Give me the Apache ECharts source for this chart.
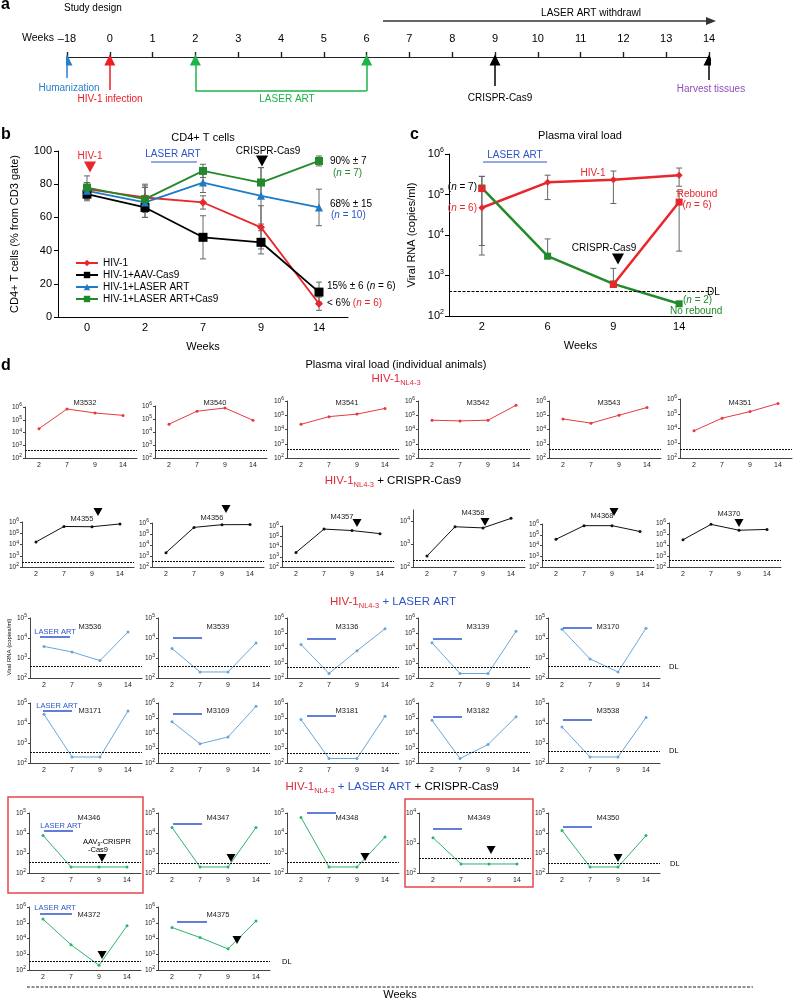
<!DOCTYPE html>
<html>
<head>
<meta charset="utf-8">
<script src="https://cdn.jsdelivr.net/npm/echarts@6/dist/echarts.min.js"></script>
<style>
  html, body { margin: 0; padding: 0; background: #fff; }
  #container { width: 793px; height: 1000px; }
</style>
</head>
<body>
<div id="container"></div>
<script>
// ---- a: study design ----
const timelineWeeks = ['–18', '0', '1', '2', '3', '4', '5', '6', '7', '8', '9', '10', '11', '12', '13', '14'];
const eventWeeks = ['–18', '0', '2', '6', '9', '14'];

// ---- b: CD4+ T cells (%) ----
const weeksB = ['0', '2', '7', '9', '14'];
const cd4Hiv = [77, 72, 69, 54, 8];
const cd4HivErr = [4, 8, 4, 13, 4];
const cd4Cas = [74, 66, 48, 45, 15];
const cd4CasErr = [4, 6, 13, 7, 6];
const cd4Art = [76, 69, 81, 73, 66];
const cd4ArtErr = [5, 9, 6, 17, 11];
const cd4ArtCas = [78, 71, 88, 81, 94];
const cd4ArtCasErr = [7, 8, 4, 9, 3];

// ---- c: plasma viral load ----
const weeksC = ['2', '6', '9', '14'];
const vlHiv = [4.7e4, 2e5, 2.3e5, 3e5];
const vlHivLo = [3.2e3, 7.5e4, 6e4, 1.6e5];
const vlHivHi = [2.8e5, 3e5, 3.8e5, 4.5e5];
const vlRebound = [1.4e5, null, 600, 6.5e4];
const vlReboundLo = [null, null, null, 4e3];
const vlReboundHi = [null, null, null, 1.2e5];
const vlArtCas = [1.45e5, 3e3, 620, 200];
const vlArtCasLo = [5.5e3, 2.6e3, 600, null];
const vlArtCasHi = [2.8e5, 8e3, 1.5e3, null];
const detectionLimit = 400;

// ---- d: individual animals ----
const weeksD = ['2', '7', '9', '14'];
const hivIds = ['M3532', 'M3540', 'M3541', 'M3542', 'M3543', 'M4351'];
const hivLoads = [
  [2e4, 7e5, 3.4e5, 2.2e5], [4e4, 4e5, 7e5, 8e4], [2.3e4, 8e4, 1.2e5, 3e5],
  [4.5e4, 4e4, 4.5e4, 5e5], [5.5e4, 2.8e4, 1e5, 3.5e5], [7e3, 5e4, 1.4e5, 5e5]
];
const hivMax = [1e6, 1e6, 1e6, 1e6, 1e6, 1e6];
const hivDL = [380, 380, 380, 380, 400, 400];

const casIds = ['M4355', 'M4356', 'M4357', 'M4358', 'M4368', 'M4370'];
const casLoads = [
  [1.7e4, 4e5, 3.8e5, 6.7e5], [2e3, 4e5, 7e5, 7.2e5], [2.6e3, 5e5, 3.6e5, 1.8e5],
  [3e2, 5.6e3, 5e3, 1.3e4], [3.8e4, 7e5, 7e5, 2e5], [3e4, 7.5e5, 2.2e5, 2.6e5]
];
const casMax = [1e6, 1e6, 1e6, 3e4, 1e6, 1e6];
const casDL = [270, 320, 350, 200, 400, 450];

const artIds = ['M3536', 'M3539', 'M3136', 'M3139', 'M3170', 'M3171', 'M3169', 'M3181', 'M3182', 'M3538'];
const artLoads = [
  [3.8e3, 2e3, 740, 2e4], [3e3, 200, 200, 5.6e3], [1.7e4, 200, 6.6e3, 1.9e5],
  [2.2e4, 200, 200, 1.3e5], [2.7e4, 900, 200, 3.1e4], [2.7e4, 200, 200, 4e4],
  [5.7e4, 1.9e3, 5.4e3, 6e5], [7.8e4, 200, 200, 1.3e5], [7e4, 200, 1.7e3, 1.2e5],
  [6.3e3, 200, 200, 1.9e4]
];
const artMax = [1e5, 1e5, 1e6, 1e6, 1e5, 1e5, 1e6, 1e6, 1e6, 1e5];
const artDL = [380, 380, 540, 520, 380, 330, 470, 470, 500, 380];

const artCasIds = ['M4346', 'M4347', 'M4348', 'M4349', 'M4350', 'M4372', 'M4375'];
const artCasLoads = [
  [7.6e3, 200, 200, 200], [1.9e4, 200, 200, 1.9e4], [6e4, 200, 200, 6.3e3],
  [1.5e3, 200, 200, 200], [1.35e4, 200, 200, 7.4e3], [1.7e5, 4e3, 200, 6.4e4],
  [5e4, 1.15e4, 2.2e3, 1.3e5]
];
const artCasMax = [1e5, 1e5, 1e5, 1e4, 1e5, 1e6, 1e6];
const artCasDL = [340, 320, 350, 300, 300, 340, 380];

const FONT = '"Liberation Sans", Arial, Helvetica, sans-serif';
const RED = '#e8262b', BLUE = '#1f7cc4', GREEN = '#228a2a', TITLE_RED = '#e0283b', TITLE_BLUE = '#2d55c8';

const grid = [], xAxis = [], yAxis = [], series = [], graphic = [];

function addGrid(g, xa, ya) {
  grid.push(g);
  const i = grid.length - 1;
  xa.gridIndex = i; ya.gridIndex = i;
  xAxis.push(xa); yAxis.push(ya);
  return i;
}

function tok(size, color, extra) {
  return Object.assign({ fontSize: size, fontFamily: FONT, fill: color || '#000', color: color || '#000' }, extra || {});
}

function text(x, y, str, o) {
  o = o || {};
  return {
    type: 'text', x: x, y: y, z: 100, rotation: o.rotation || 0,
    style: {
      text: str, fontFamily: FONT, fontSize: o.size || 10, fontWeight: o.weight || 'normal',
      fill: o.color || '#000', align: o.align || 'center', verticalAlign: 'middle', rich: o.rich
    }
  };
}

function triangleDown(x, y, s) {
  return { type: 'polygon', z: 100, shape: { points: [[x - s, y - s * 0.9], [x + s, y - s * 0.9], [x, y + s * 0.9]] }, style: { fill: '#000' } };
}

function hline(x1, x2, y, color, w) {
  return { type: 'line', z: 100, shape: { x1: x1, y1: y, x2: x2, y2: y }, style: { stroke: color, lineWidth: w || 1.5 } };
}

function errorBars(params, api) {
  const lo = api.coord([api.value(0), api.value(1)]);
  const hi = api.coord([api.value(0), api.value(2)]);
  const w = 3, st = { stroke: '#666', lineWidth: 1 };
  return {
    type: 'group', children: [
      { type: 'line', shape: { x1: lo[0], y1: lo[1], x2: hi[0], y2: hi[1] }, style: st },
      { type: 'line', shape: { x1: lo[0] - w, y1: lo[1], x2: lo[0] + w, y2: lo[1] }, style: st },
      { type: 'line', shape: { x1: hi[0] - w, y1: hi[1], x2: hi[0] + w, y2: hi[1] }, style: st }
    ]
  };
}

const expLabel = v => '10{s|' + Math.round(Math.log10(v)) + '}';

// ================= a =================
graphic.push(text(1, 5, 'a', { size: 16, weight: 'bold', align: 'left' }));
graphic.push(text(64, 8, 'Study design', { align: 'left' }));
graphic.push(text(22, 38, 'Weeks', { align: 'left', size: 10.5 }));

const gA = addGrid({ left: 67, top: 52, width: 642, height: 5 }, {
  type: 'category', data: timelineWeeks, boundaryGap: false, position: 'top',
  axisLine: { lineStyle: { color: '#222', width: 1.2 } },
  axisTick: { length: 5, lineStyle: { color: '#222', width: 1.2 } },
  axisLabel: { fontSize: 11, margin: 8, color: '#000', fontFamily: FONT },
  splitLine: { show: true, lineStyle: { color: '#222', width: 1.2 } }
}, { type: 'value', show: false });

const gA2 = addGrid({ left: 67, top: 52, width: 642, height: 50 }, {
  type: 'category', data: timelineWeeks, boundaryGap: false, show: false
}, { type: 'value', min: 0, max: 50, inverse: true, show: false });

const eventColors = ['#2a7fcb', '#ee1c25', '#1db34a', '#1db34a', '#000', '#000'];
const eventTails = [26, 38, 39, 39, 34, 28];
series.push({
  type: 'lines', coordinateSystem: 'cartesian2d', xAxisIndex: gA2, yAxisIndex: gA2,
  symbol: ['none', 'triangle'], symbolSize: 11, silent: true,
  lineStyle: { width: 1.5, opacity: 1 },
  data: eventWeeks.map((w, i) => ({ coords: [[w, eventTails[i]], [w, 8]], lineStyle: { color: eventColors[i] } }))
});
series.push({
  type: 'lines', coordinateSystem: 'cartesian2d', xAxisIndex: gA2, yAxisIndex: gA2, silent: true,
  lineStyle: { width: 1.5, opacity: 1, color: '#1db34a' },
  data: [{ coords: [['2', 39], ['6', 39]] }]
});
graphic.push(hline(383, 708, 21, '#333', 1.5));
graphic.push({ type: 'polygon', z: 100, shape: { points: [[706, 17], [716, 21], [706, 25]] }, style: { fill: '#333' } });
graphic.push(text(591, 13, 'LASER ART withdrawl'));
graphic.push(text(69, 88, 'Humanization', { color: '#2a7fcb' }));
graphic.push(text(110, 99, 'HIV-1 infection', { color: '#ee1c25' }));
graphic.push(text(287, 99, 'LASER ART', { color: '#1db34a' }));
graphic.push(text(500, 98, 'CRISPR-Cas9'));
graphic.push(text(711, 89, 'Harvest tissues', { color: '#8e4fb6' }));

// ================= b =================
graphic.push(text(1, 135, 'b', { size: 16, weight: 'bold', align: 'left' }));
graphic.push(text(203, 138, 'CD4+ T cells', { size: 11 }));
const gB = addGrid({ left: 58, top: 151, width: 290, height: 166 }, {
  type: 'category', data: weeksB, boundaryGap: true,
  name: 'Weeks', nameLocation: 'middle', nameGap: 24, nameTextStyle: { fontSize: 11, fontFamily: FONT, color: '#000' },
  axisLine: { lineStyle: { color: '#000' } }, axisTick: { length: 4, lineStyle: { color: '#000' } },
  axisLabel: { fontSize: 11, margin: 5, color: '#000', fontFamily: FONT }
}, {
  type: 'value', min: 0, max: 100, interval: 20,
  name: 'CD4+ T cells (% from CD3 gate)', nameLocation: 'middle', nameGap: 38,
  nameTextStyle: { fontSize: 11, fontFamily: FONT, color: '#000' },
  axisLine: { show: true, lineStyle: { color: '#000' } }, axisTick: { show: true, length: 4, lineStyle: { color: '#000' } },
  splitLine: { show: false }, axisLabel: { fontSize: 11, margin: 6, color: '#000', fontFamily: FONT }
});

function cd4Series(name, vals, errs, color, symbol, size) {
  series.push({
    type: 'custom', xAxisIndex: gB, yAxisIndex: gB, renderItem: errorBars, silent: true, z: 1,
    encode: { x: 0, y: [1, 2] },
    data: vals.map((v, i) => [i, v - errs[i], v + errs[i]])
  });
  series.push({
    type: 'line', name: name, xAxisIndex: gB, yAxisIndex: gB, data: vals, z: 3,
    symbol: symbol, symbolSize: size, itemStyle: { color: color }, lineStyle: { color: color, width: 1.8 }
  });
}
cd4Series('HIV-1', cd4Hiv, cd4HivErr, RED, 'diamond', 8);
cd4Series('HIV-1+AAV-Cas9', cd4Cas, cd4CasErr, '#000', 'rect', 9);
cd4Series('HIV-1+LASER ART', cd4Art, cd4ArtErr, BLUE, 'triangle', 8);
cd4Series('HIV-1+LASER ART+Cas9', cd4ArtCas, cd4ArtCasErr, GREEN, 'rect', 8);

graphic.push(text(90, 156, 'HIV-1', { color: RED }));
graphic.push(Object.assign(triangleDown(90, 167, 6), { style: { fill: RED } }));
graphic.push(text(173, 154, 'LASER ART', { color: TITLE_BLUE }));
graphic.push(hline(151, 197, 162, TITLE_BLUE, 1));
graphic.push(text(268, 151, 'CRISPR-Cas9'));
graphic.push(triangleDown(262, 161, 6));
const richN = (c) => ({ k: tok(10, '#000'), c: tok(10, c), ci: tok(10, c, { fontStyle: 'italic' }), ki: tok(10, '#000', { fontStyle: 'italic' }) });
graphic.push(text(330, 161, '90% ± 7', { align: 'left' }));
graphic.push(text(333, 173, '{c|(}{ci|n}{c| = 7)}', { align: 'left', rich: richN(GREEN) }));
graphic.push(text(330, 204, '68% ± 15', { align: 'left' }));
graphic.push(text(331, 215, '{c|(}{ci|n}{c| = 10)}', { align: 'left', rich: richN(TITLE_BLUE) }));
graphic.push(text(327, 286, '{k|15% ± 6 (}{ki|n}{k| = 6)}', { align: 'left', rich: richN('#000') }));
graphic.push(text(327, 303, '{k|< 6% }{c|(}{ci|n}{c| = 6)}', { align: 'left', rich: richN(RED) }));

// ================= c =================
graphic.push(text(410, 135, 'c', { size: 16, weight: 'bold', align: 'left' }));
graphic.push(text(580, 136, 'Plasma viral load', { size: 11 }));
const gC = addGrid({ left: 449, top: 154, width: 263, height: 162 }, {
  type: 'category', data: weeksC, boundaryGap: true,
  name: 'Weeks', nameLocation: 'middle', nameGap: 24, nameTextStyle: { fontSize: 11, fontFamily: FONT, color: '#000' },
  axisLine: { lineStyle: { color: '#000' } }, axisTick: { length: 4, lineStyle: { color: '#000' } },
  axisLabel: { fontSize: 11, margin: 5, color: '#000', fontFamily: FONT }
}, {
  type: 'log', logBase: 10, min: 100, max: 1e6, interval: 1,
  name: 'Viral RNA (copies/ml)', nameLocation: 'middle', nameGap: 32,
  nameTextStyle: { fontSize: 11, fontFamily: FONT, color: '#000' },
  axisLine: { show: true, lineStyle: { color: '#000' } }, axisTick: { show: true, length: 4, lineStyle: { color: '#000' } },
  splitLine: { show: false }, minorTick: { show: false },
  axisLabel: { fontSize: 11, margin: 5, color: '#000', fontFamily: FONT, lineHeight: 14, formatter: expLabel,
    rich: { s: { fontSize: 7, fontFamily: FONT, color: '#000', verticalAlign: 'top', lineHeight: 14 } } }
});

function vlErr(lo, hi) {
  series.push({
    type: 'custom', xAxisIndex: gC, yAxisIndex: gC, renderItem: errorBars, silent: true, z: 1,
    encode: { x: 0, y: [1, 2] },
    data: lo.map((v, i) => [i, v, hi[i]]).filter(d => d[1] != null)
  });
}
vlErr(vlHivLo, vlHivHi);
vlErr(vlReboundLo, vlReboundHi);
vlErr(vlArtCasLo, vlArtCasHi);
series.push({
  type: 'line', name: 'c HIV-1', xAxisIndex: gC, yAxisIndex: gC, data: vlHiv, z: 3,
  symbol: 'diamond', symbolSize: 7, itemStyle: { color: RED }, lineStyle: { color: RED, width: 2.5 }
});
series.push({
  type: 'line', name: 'c ART+Cas9', xAxisIndex: gC, yAxisIndex: gC, data: vlArtCas, z: 3,
  symbol: 'rect', symbolSize: 7, itemStyle: { color: GREEN }, lineStyle: { color: GREEN, width: 2.5 },
  markLine: { silent: true, symbol: 'none', label: { show: false },
    lineStyle: { type: [3, 1.5], color: '#000', width: 1.2 }, data: [{ yAxis: detectionLimit }] }
});
series.push({
  type: 'line', name: 'c Rebound', xAxisIndex: gC, yAxisIndex: gC, data: vlRebound, z: 4,
  symbol: 'rect', symbolSize: 7, itemStyle: { color: RED }, lineStyle: { color: RED, width: 2.5 }
});
graphic.push(text(515, 155, 'LASER ART', { color: TITLE_BLUE }));
graphic.push(hline(483, 547, 162, TITLE_BLUE, 1));
graphic.push(text(593, 173, 'HIV-1', { color: RED }));
graphic.push(text(477, 187, '{c|(}{ci|n}{c| = 7)}', { align: 'right', rich: richN('#000') }));
graphic.push(text(477, 208, '{c|(}{ci|n}{c| = 6)}', { align: 'right', rich: richN(RED) }));
graphic.push(text(697, 194, 'Rebound', { color: RED }));
graphic.push(text(697, 205, '{c|(}{ci|n}{c| = 6)}', { rich: richN(RED) }));
graphic.push(text(604, 248, 'CRISPR-Cas9'));
graphic.push(triangleDown(618, 259, 6));
graphic.push(text(707, 292, 'DL', { align: 'left' }));
graphic.push(text(683, 300, '{c|(}{ci|n}{c| = 2)}', { align: 'left', rich: richN(GREEN) }));
graphic.push(text(670, 311, 'No rebound', { align: 'left', color: GREEN }));

// ================= d =================
graphic.push(text(1, 366, 'd', { size: 16, weight: 'bold', align: 'left' }));
graphic.push(text(396, 365, 'Plasma viral load (individual animals)', { size: 11 }));
const titleRich = {
  r: tok(11.5, TITLE_RED, { lineHeight: 16 }),
  rs: tok(7.5, TITLE_RED, { verticalAlign: 'bottom', lineHeight: 16 }),
  b: tok(11.5, TITLE_BLUE, { lineHeight: 16 }),
  k: tok(11.5, '#000', { lineHeight: 16 })
};
graphic.push(text(396, 379, '{r|HIV-1}{rs|NL4-3}', { rich: titleRich }));
graphic.push(text(393, 481, '{r|HIV-1}{rs|NL4-3}{k| + CRISPR-Cas9}', { rich: titleRich }));
graphic.push(text(393, 602, '{r|HIV-1}{rs|NL4-3}{b| + LASER ART}', { rich: titleRich }));
graphic.push(text(392, 787, '{r|HIV-1}{rs|NL4-3}{b| + LASER ART}{k| + CRISPR-Cas9}', { rich: titleRich }));

function smallPanel(left, top, bottom, ymax, vals, color, dl, id, labelY) {
  const gi = addGrid({ left: left, top: top, width: 112, height: bottom - top }, {
    type: 'category', data: weeksD, boundaryGap: true,
    axisLine: { lineStyle: { color: '#444', width: 1 } }, axisTick: { length: 2, lineStyle: { color: '#444' } },
    axisLabel: { fontSize: 7, margin: 4, color: '#222', fontFamily: FONT }
  }, {
    type: 'log', logBase: 10, min: 100, max: ymax, interval: 1,
    axisLine: { show: true, lineStyle: { color: '#444' } }, axisTick: { show: true, length: 2, lineStyle: { color: '#444' } },
    splitLine: { show: false }, minorTick: { show: false },
    axisLabel: { fontSize: 6.5, margin: 3, color: '#222', fontFamily: FONT, lineHeight: 9, formatter: expLabel,
      showMinLabel: true, showMaxLabel: Math.abs(Math.log10(ymax) % 1) < 1e-6,
      rich: { s: { fontSize: 5, fontFamily: FONT, color: '#222', verticalAlign: 'top', lineHeight: 9 } } }
  });
  series.push({
    type: 'line', name: id, xAxisIndex: gi, yAxisIndex: gi, data: vals,
    symbol: 'circle', symbolSize: 3, itemStyle: { color: color }, lineStyle: { color: color, width: 1 },
    markLine: { silent: true, symbol: 'none', label: { show: false },
      lineStyle: { type: [2, 1], color: '#111', width: 1.1 }, data: [{ yAxis: dl }] }
  });
  graphic.push(text(left + 60, labelY, id, { size: 7.5, color: '#222' }));
}

const dColors = { hiv: '#e6393f', cas: '#111', art: '#6aa6d6', artCas: '#2db36b' };
const row1Left = [25, 155, 287, 418, 549, 680], row1Top = [407, 406, 401, 401, 401, 399];
hivIds.forEach((id, i) => smallPanel(row1Left[i], row1Top[i], 458, hivMax[i], hivLoads[i], dColors.hiv, hivDL[i], id, 403));

const row2Left = [22, 152, 282, 413, 542, 669], row2Top = [522, 523, 526, 510, 524, 523];
const row2LabelY = [519, 518, 517, 513, 516, 514];
casIds.forEach((id, i) => smallPanel(row2Left[i], row2Top[i], 567, casMax[i], casLoads[i], dColors.cas, casDL[i], id, row2LabelY[i]));
[[98, 512], [226, 509], [357, 523], [485, 522], [614, 512], [739, 523]].forEach(p => graphic.push(triangleDown(p[0], p[1], 4.5)));

const row34Left = [30, 158, 287, 418, 548];
artIds.forEach((id, i) => {
  const r = i < 5 ? 0 : 1, c = i % 5;
  smallPanel(row34Left[c], r ? 703 : 618, r ? 763 : 678, artMax[i], artLoads[i], dColors.art, artDL[i], id, r ? 711 : 627);
});
[[40, 70, 637], [173, 202, 638], [307, 336, 639], [433, 462, 639], [563, 592, 628],
 [43, 72, 711], [173, 202, 714], [307, 336, 716], [433, 462, 717], [563, 592, 720]
].forEach(l => graphic.push(hline(l[0], l[1], l[2], TITLE_BLUE, 1.5)));
graphic.push(text(55, 632, 'LASER ART', { size: 7.5, color: TITLE_BLUE }));
graphic.push(text(57, 706, 'LASER ART', { size: 7.5, color: TITLE_BLUE }));
graphic.push(text(669, 667, 'DL', { size: 7.5, align: 'left' }));
graphic.push(text(669, 751, 'DL', { size: 7.5, align: 'left' }));
graphic.push(text(9, 647, 'Viral RNA (copies/ml)', { size: 6, rotation: Math.PI / 2 }));

const row56Left = [29, 158, 287, 419, 548, 29, 158];
artCasIds.forEach((id, i) => {
  const r = i < 5 ? 0 : 1;
  smallPanel(row56Left[i], r ? 907 : 813, r ? 970 : 873, artCasMax[i], artCasLoads[i], dColors.artCas, artCasDL[i], id, r ? 915 : 818);
});
[[44, 73, 831], [173, 202, 824], [307, 336, 813], [433, 462, 829], [563, 592, 827], [40, 72, 914], [177, 207, 922]]
  .forEach(l => graphic.push(hline(l[0], l[1], l[2], TITLE_BLUE, 1.5)));
[[102, 858], [231, 858], [365, 857], [491, 850], [618, 858], [102, 955], [237, 940]]
  .forEach(p => graphic.push(triangleDown(p[0], p[1], 4.5)));
graphic.push(text(61, 826, 'LASER ART', { size: 7.5, color: TITLE_BLUE }));
graphic.push(text(55, 908, 'LASER ART', { size: 7.5, color: TITLE_BLUE }));
graphic.push(text(107, 842, '{a|AAV}{s|9}{a|-CRISPR}', {
  rich: { a: tok(7.5, '#000', { lineHeight: 11 }), s: tok(5, '#000', { verticalAlign: 'bottom', lineHeight: 11 }) }
}));
graphic.push(text(88, 850, '-Cas9', { size: 7.5, align: 'left' }));
graphic.push(text(670, 864, 'DL', { size: 7.5, align: 'left' }));
graphic.push(text(282, 962, 'DL', { size: 7.5, align: 'left' }));
graphic.push({ type: 'rect', z: 100, shape: { x: 8, y: 797, width: 135, height: 96 }, style: { fill: 'none', stroke: '#e8454a', lineWidth: 1.5 } });
graphic.push({ type: 'rect', z: 100, shape: { x: 405, y: 799, width: 128, height: 88 }, style: { fill: 'none', stroke: '#e8454a', lineWidth: 1.5 } });

graphic.push({ type: 'line', z: 100, shape: { x1: 27, y1: 987, x2: 753, y2: 987 }, style: { stroke: '#222', lineWidth: 1.2, lineDash: [3, 1.5] } });
graphic.push(text(400, 995, 'Weeks', { size: 11 }));

var dom = document.getElementById('container');
var myChart = echarts.init(dom, null, { renderer: 'canvas' });
var option = {
  animation: false,
  textStyle: { fontFamily: FONT },
  legend: {
    data: ['HIV-1', 'HIV-1+AAV-Cas9', 'HIV-1+LASER ART', 'HIV-1+LASER ART+Cas9'],
    orient: 'vertical', left: 70, top: 253, itemWidth: 22, itemHeight: 8, itemGap: 2,
    textStyle: { fontSize: 10, fontFamily: FONT, color: '#000' }, selectedMode: false
  },
  grid: grid, xAxis: xAxis, yAxis: yAxis, series: series, graphic: graphic
};
myChart.setOption(option);
window.addEventListener('resize', myChart.resize);
</script>
</body>
</html>
